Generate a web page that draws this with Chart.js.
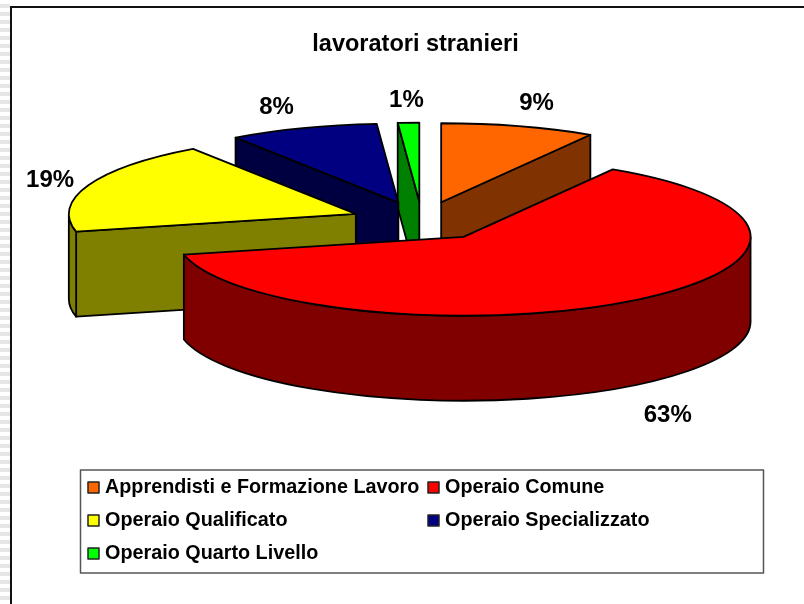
<!DOCTYPE html>
<html>
<head>
<meta charset="utf-8">
<script src="https://cdn.jsdelivr.net/npm/chart.js@4/dist/chart.umd.js"></script>
<style>
html, body { margin: 0; padding: 0; background: #fff; overflow: hidden; }
#wrap { position: relative; width: 804px; height: 604px; }
#strip { position: absolute; left: 0; top: 0; width: 10px; height: 604px;
	background: repeating-linear-gradient(to bottom, #fff 0 4px, #e6e6e6 4px 8px); }
#frame { position: absolute; left: 10px; top: 6px; width: 794px; height: 598px;
	border-left: 2px solid #111; border-top: 2px solid #111; box-sizing: border-box; background: #fff; }
canvas { position: absolute; left: 0; top: 0; }
</style>
</head>
<body>
<div id="wrap">
	<div id="strip"></div>
	<div id="frame"></div>
	<canvas id="pieChart" width="804" height="604"></canvas>
</div>
<script>
// Chart data
const categories = ['Apprendisti e Formazione Lavoro', 'Operaio Comune', 'Operaio Qualificato', 'Operaio Specializzato', 'Operaio Quarto Livello'];
const shares = [8.7, 62.7, 19, 8.4, 1.2];
const topColors = ['#FF6600', '#FF0000', '#FFFF00', '#000080', '#00FF00'];
const wallColors = ['#803300', '#800000', '#808000', '#000040', '#008000'];
const chartTitle = 'lavoratori stranieri';

// 3d look
const squash = 0.275;
const depth = 85;
const centerX = 422;
const centerY = 221;
const radius = 287;
const explode = 71;
const labelNudge = [[3, 0], [4, 11], [13, 4], [-8, 1], [0, 1]];

function toScreen(ctx, arc) {
	// squash the circle of the pie into an ellipse around the center
	ctx.translate(centerX - arc.x, centerY);
	ctx.scale(1, squash);
	ctx.translate(0, -arc.y);
}

function arcGeom(arc) {
	const mid = (arc.startAngle + arc.endAngle) / 2;
	const off = arc.options.offset;
	return {
		x: arc.x + Math.cos(mid) * off,
		y: arc.y + Math.sin(mid) * off,
		mid: mid,
		a0: arc.startAngle,
		a1: arc.endAngle,
		r: arc.outerRadius,
	};
}

function strokeIt(ctx, fill) {
	ctx.fillStyle = fill;
	ctx.fill();
	ctx.lineWidth = 1.8;
	ctx.strokeStyle = '#000';
	ctx.lineJoin = 'round';
	ctx.stroke();
}

// a cut side of the slice, from the apex out to the rim
function drawCut(ctx, arc, g, ang, fill) {
	const d = depth / squash;
	const ex = g.x + Math.cos(ang) * g.r;
	const ey = g.y + Math.sin(ang) * g.r;
	ctx.save();
	toScreen(ctx, arc);
	ctx.beginPath();
	ctx.moveTo(g.x, g.y);
	ctx.lineTo(ex, ey);
	ctx.lineTo(ex, ey + d);
	ctx.lineTo(g.x, g.y + d);
	ctx.closePath();
	ctx.restore();
	strokeIt(ctx, fill);
}

// the front part of the outer rim
function drawRim(ctx, arc, g, fill) {
	const d = depth / squash;
	const from = Math.max(g.a0, 0);
	const to = Math.min(g.a1, Math.PI);
	if (to <= from) return;
	ctx.save();
	toScreen(ctx, arc);
	ctx.beginPath();
	ctx.arc(g.x, g.y, g.r, from, to);
	ctx.arc(g.x, g.y + d, g.r, to, from, true);
	ctx.closePath();
	ctx.restore();
	strokeIt(ctx, fill);
}

function drawTop(ctx, arc, g, fill) {
	ctx.save();
	toScreen(ctx, arc);
	ctx.beginPath();
	ctx.moveTo(g.x, g.y);
	ctx.arc(g.x, g.y, g.r, g.a0, g.a1);
	ctx.closePath();
	ctx.restore();
	strokeIt(ctx, fill);
}

class Pie3dController extends Chart.PieController {
	draw() {
		const ctx = this.chart.ctx;
		const arcs = this.getMeta().data;
		const order = arcs.map((a, i) => i).sort((i, j) => arcGeom(arcs[i]).y - arcGeom(arcs[j]).y);
		order.forEach((i) => {
			const arc = arcs[i];
			const g = arcGeom(arc);
			// cut sides only when they look toward the viewer
			if (Math.cos(g.a0) < 0) drawCut(ctx, arc, g, g.a0, wallColors[i]);
			if (Math.cos(g.a1) > 0) drawCut(ctx, arc, g, g.a1, wallColors[i]);
			drawRim(ctx, arc, g, wallColors[i]);
			drawTop(ctx, arc, g, topColors[i]);
		});
	}
}
Pie3dController.id = 'pie3d';
Pie3dController.defaults = Chart.PieController.defaults;
Pie3dController.overrides = Chart.PieController.overrides;
Chart.register(Pie3dController);

const percentLabels = {
	id: 'percentLabels',
	afterDatasetsDraw(chart) {
		const ctx = chart.ctx;
		const arcs = chart.getDatasetMeta(0).data;
		const total = shares.reduce((a, b) => a + b, 0);
		ctx.save();
		ctx.font = 'bold 24px "Liberation Sans"';
		ctx.fillStyle = '#000';
		ctx.textAlign = 'center';
		ctx.textBaseline = 'middle';
		arcs.forEach((arc, i) => {
			const g = arcGeom(arc);
			const sx = centerX - arc.x + g.x + Math.cos(g.mid) * (g.r + 55);
			let sy = centerY + (g.y - arc.y + Math.sin(g.mid) * (g.r + 85)) * squash;
			if (Math.sin(g.mid) > 0) sy += depth;
			ctx.fillText(Math.round(shares[i] / total * 100) + '%', sx + labelNudge[i][0], sy + labelNudge[i][1]);
		});
		ctx.restore();
	},
};

const boxLegend = {
	id: 'boxLegend',
	afterDraw(chart) {
		const ctx = chart.ctx;
		ctx.save();
		ctx.lineWidth = 1.5;
		ctx.strokeStyle = '#555';
		ctx.strokeRect(80.5, 470, 683, 103);
		ctx.font = 'bold 19.8px "Liberation Sans"';
		ctx.textBaseline = 'middle';
		ctx.textAlign = 'left';
		chart.data.labels.forEach((label, i) => {
			const col = i % 2;
			const row = Math.floor(i / 2);
			const x = col == 0 ? 88 : 428;
			const y = 488 + row * 33;
			ctx.fillStyle = topColors[i];
			ctx.fillRect(x, y - 6, 11, 11);
			ctx.strokeStyle = '#222';
			ctx.strokeRect(x, y - 6, 11, 11);
			ctx.fillStyle = '#000';
			ctx.fillText(label, x + 17, y);
		});
		ctx.restore();
	},
};

new Chart(document.getElementById('pieChart').getContext('2d'), {
	type: 'pie3d',
	data: {
		labels: categories,
		datasets: [{
			data: shares,
			backgroundColor: topColors,
			borderWidth: 0,
			offset: explode,
			hoverOffset: 0,
		}],
	},
	options: {
		responsive: false,
		animation: false,
		radius: radius,
		layout: { padding: { left: 27 } },
		plugins: {
			legend: { display: false },
			tooltip: { enabled: false },
			title: {
				display: true,
				text: chartTitle,
				color: '#000',
				font: { family: '"Liberation Sans"', size: 23.5, weight: 'bold' },
				padding: { top: 30, bottom: 0 },
			},
		},
	},
	plugins: [percentLabels, boxLegend],
});
</script>
</body>
</html>
